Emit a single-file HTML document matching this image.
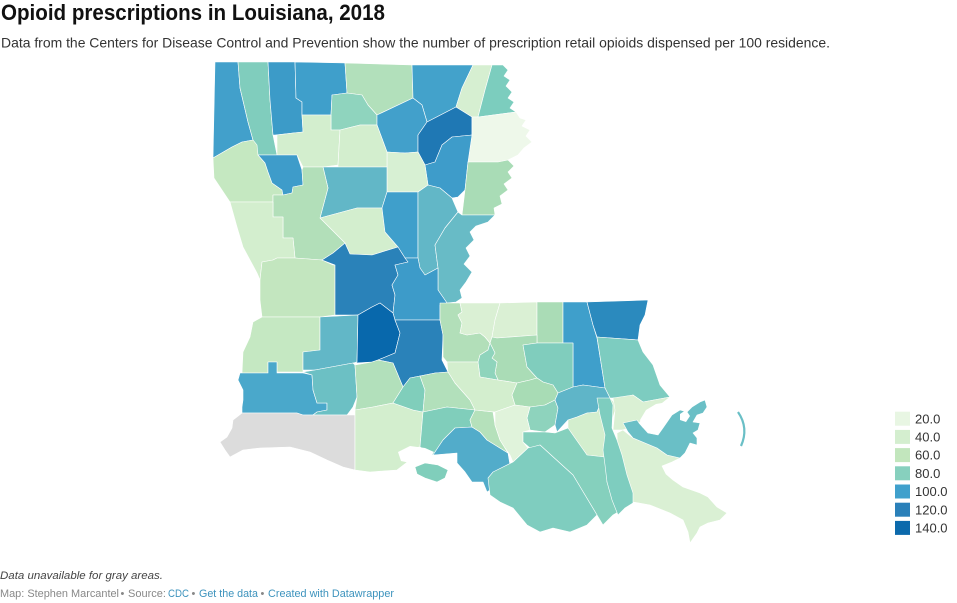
<!DOCTYPE html>
<html><head><meta charset="utf-8"><style>
html,body{margin:0;padding:0;background:#fff;}
svg{display:block;}
</style></head><body>
<svg width="957" height="603" viewBox="0 0 957 603" xmlns="http://www.w3.org/2000/svg" font-family="'Liberation Sans', Arial, sans-serif">
<rect width="957" height="603" fill="#fff"/>
<text x="1" y="20" font-size="22" font-weight="bold" fill="#111" textLength="384" lengthAdjust="spacingAndGlyphs">Opioid prescriptions in Louisiana, 2018</text>
<text x="1" y="47.5" font-size="14" fill="#333" textLength="829" lengthAdjust="spacingAndGlyphs">Data from the Centers for Disease Control and Prevention show the number of prescription retail opioids dispensed per 100 residence.</text>

<g stroke="#fff" stroke-width="0.6" stroke-linejoin="round">
<!-- North -->
<polygon fill="#42a0cb" points="215,62 238,62 240,88 244,105 248,122 253,140 242,142 232,147 213,158"/>
<polygon fill="#80cdbd" points="238,62 268,62 270,100 273,135 277,155 258,155 253,140 248,122 244,105 240,88"/>
<polygon fill="#3c9bc8" points="268,62 295,62 296,98 302,102 302,115 303,132 293,133 275,135 273,135 270,100"/>
<polygon fill="#3f9fcb" points="295,62 345,63 347,93 332,95 331,115 302,115 302,102 296,98"/>
<polygon fill="#b2e0bb" points="345,63 412,65 413,98 377,115 368,105 362,95 347,93"/>
<polygon fill="#8fd4be" points="332,95 347,93 362,95 368,105 377,115 377,125 360,125 340,130 331,130 331,115"/>
<polygon fill="#43a2cb" points="412,65 473,65 462,88 456,107 427,122 422,105 413,98"/>
<polygon fill="#d6efd1" points="473,65 492,65 485,90 478,117 472,117 456,107 462,88"/>
<polygon fill="#7ccdbe" points="492,65 503,65 508,70 504,76 510,80 506,86 512,92 508,98 514,102 510,108 516,112 478,117 485,90"/>
<polygon fill="#42a0cb" points="377,115 413,98 422,105 427,122 418,135 418,152 405,153 387,152 377,125"/>
<polygon fill="#1f78b4" points="427,122 456,107 472,117 472,135 452,137 442,145 435,162 425,165 418,152 418,135"/>
<polygon fill="#eef8ea" points="472,117 478,117 516,112 520,118 526,120 522,126 530,130 526,136 532,142 524,148 518,155 508,160 498,162 468,162 472,135"/>
<polygon fill="#3e9cca" points="425,165 435,162 442,145 452,137 472,135 468,162 465,190 458,197 452,198 440,188 428,185"/>
<polygon fill="#a9dcb6" points="468,162 498,162 508,160 514,166 508,172 512,178 504,184 508,190 500,196 502,204 494,208 495,215 462,215 465,190"/>
<polygon fill="#d7f0d3" points="387,152 405,153 418,152 425,165 428,185 418,192 387,192"/>
<polygon fill="#d3eece" points="277,135 293,133 303,132 302,115 331,115 331,130 340,130 338,165 323,167 303,167 297,155 277,155"/>
<polygon fill="#d3eece" points="340,130 360,125 377,125 387,152 387,167 338,167 338,165"/>
<polygon fill="#62b7c7" points="323,167 387,167 387,192 382,208 357,208 320,218 328,188"/>
<polygon fill="#d3eece" points="320,218 357,208 382,208 385,232 398,247 372,255 350,254 345,243 342,240"/>
<polygon fill="#3f9fcb" points="387,192 418,192 418,258 405,258 398,247 385,232 382,208"/>
<polygon fill="#62b7c7" points="418,192 428,185 440,188 452,198 458,212 445,228 435,245 438,268 425,275 420,268 418,258"/>
<polygon fill="#68bbc6" points="458,212 462,215 495,215 488,222 476,226 470,232 474,240 466,248 470,256 464,264 472,272 466,282 460,290 462,298 456,302 447,303 438,290 438,268 435,245 445,228"/>
<polygon fill="#c5e8c1" points="213,158 232,147 242,142 253,140 257,145 258,155 265,163 268,172 272,183 282,190 283,195 273,195 273,202 230,202 222,190 214,178"/>
<polygon fill="#3e9cca" points="258,155 297,155 302,170 303,185 293,187 292,193 283,195 282,190 272,183 268,172 265,163"/>
<polygon fill="#b2dfb9" points="273,195 283,195 292,193 293,187 303,185 302,170 303,167 323,167 328,188 320,218 342,240 345,243 333,253 322,260 295,258 293,238 283,238 283,217 273,217"/>
<polygon fill="#d3eece" points="230,202 273,202 273,217 283,217 283,238 293,238 295,258 277,258 273,260 262,262 260,280 257,273 250,260 243,247 237,227"/>
<polygon fill="#c3e6bf" points="262,262 273,260 277,258 295,258 322,260 333,265 335,265 335,315 320,317 262,317 260,300 260,280"/>
<polygon fill="#2a82b9" points="322,260 333,253 345,243 350,254 372,255 398,247 405,258 408,262 395,265 398,275 392,285 395,295 393,313 380,303 372,307 358,315 335,315 335,265"/>
<polygon fill="#3d9bc9" points="405,258 418,258 420,268 425,275 438,268 438,290 447,303 440,305 440,320 395,320 393,313 395,295 392,285 398,275 395,265 408,262"/>
<!-- Southwest -->
<polygon fill="#c5e8c2" points="262,317 320,317 320,350 303,352 303,372 277,372 277,362 268,362 268,373 242,373 243,352 250,337 253,322"/>
<polygon fill="#62b7c7" points="320,317 358,315 357,362 353,363 315,370 303,370 303,352 320,350"/>
<polygon fill="#0868ac" points="358,315 372,307 380,303 393,313 395,320 400,333 395,353 378,360 372,362 355,363 357,362"/>
<polygon fill="#2a82b9" points="395,320 440,320 443,335 442,360 448,372 435,373 420,376 410,378 403,387 398,375 393,363 378,360 395,353 400,333"/>
<polygon fill="#4aa8cb" points="240,373 268,373 268,362 277,362 277,373 303,373 312,375 313,390 317,403 327,403 327,410 317,412 313,415 303,415 297,413 242,413 242,407 243,400 243,390 238,380"/>
<polygon fill="#6cc0c4" points="303,372 315,370 353,363 355,365 357,397 353,407 347,415 313,415 317,412 327,410 327,403 317,403 313,390 312,375"/>
<polygon fill="#b2e0bb" points="355,365 372,362 378,360 393,363 398,375 403,387 398,395 393,403 373,407 355,410 357,397"/>
<polygon fill="#dcdcdc" points="242,413 297,413 303,415 355,415 355,470 343,467 327,460 310,452 290,447 260,448 243,450 230,457 225,450 220,442 227,437 232,428 233,420"/>
<polygon fill="#d3eece" points="355,410 373,407 393,403 413,410 423,412 420,447 410,448 400,453 410,460 397,470 370,472 355,470"/>
<polygon fill="#80cebb" points="403,387 410,378 420,376 425,390 423,412 413,410 393,403 398,395"/>
<polygon fill="#b2e0bb" points="420,376 435,373 448,372 450,375 455,383 470,400 475,410 447,407 423,412 425,390"/>
<polygon fill="#80cebb" points="423,412 447,407 475,410 470,420 472,427 455,428 443,440 433,455 425,450 420,447"/>
<polygon fill="#52acca" points="433,455 443,440 455,428 472,427 480,432 487,440 508,453 510,465 495,475 493,488 487,492 483,482 472,482 465,472 457,463 457,453"/>
<polygon fill="#b5e1bb" points="475,410 493,412 495,425 500,440 508,453 487,440 480,432 472,427 470,420"/>
<polygon fill="#80cebb" points="415,467 425,463 438,465 448,470 445,478 437,482 425,478 417,474"/>
<!-- East / Florida parishes -->
<polygon fill="#b2dfb9" points="440,303 460,303 462,312 458,315 462,323 460,333 467,335 480,333 485,337 490,343 488,350 480,355 478,362 447,362 443,357 443,335 440,320 440,305"/>
<polygon fill="#daf0d4" points="460,303 500,303 495,320 492,337 490,343 485,337 480,333 467,335 460,333 462,323 458,315 462,312"/>
<polygon fill="#daf0d4" points="500,303 537,302 537,335 497,338 492,337 495,320"/>
<polygon fill="#aadcb6" points="537,302 563,302 563,343 550,343 537,343 537,335"/>
<polygon fill="#3f9fcb" points="563,302 587,302 593,325 597,338 605,388 583,385 573,387 573,343 563,343"/>
<polygon fill="#2b8abe" points="587,302 648,300 645,315 640,325 638,340 597,337 593,325"/>
<polygon fill="#7dccc0" points="597,337 638,340 643,352 653,365 660,385 670,397 643,402 633,395 620,398 610,398 605,388"/>
<polygon fill="#aadcb6" points="492,337 497,338 537,335 537,343 523,345 527,367 537,378 530,380 517,383 498,380 495,373 497,362 492,358 495,353 490,343"/>
<polygon fill="#8fd4bc" points="490,343 495,353 492,358 497,362 495,373 498,380 480,377 478,362 480,355 488,350"/>
<polygon fill="#80cdbd" points="523,345 537,343 563,343 573,343 573,387 558,393 553,385 543,382 537,378 527,367"/>
<polygon fill="#d3eece" points="447,362 478,362 480,377 498,380 517,383 512,395 515,405 495,412 475,410 470,400 455,383 450,375 448,372"/>
<polygon fill="#a8dcb5" points="517,383 530,380 537,378 543,382 553,385 558,393 555,400 545,405 530,407 515,405 512,395"/>
<polygon fill="#8ed3bd" points="530,407 545,405 555,400 558,408 555,425 545,432 530,430 527,418"/>
<polygon fill="#5fb5c8" points="558,393 573,387 583,385 605,388 610,398 600,405 597,412 587,413 577,417 568,420 557,432 555,425 558,408 555,400"/>
<polygon fill="#d3eece" points="568,420 577,417 587,413 597,412 600,405 610,398 617,405 607,435 605,457 587,455 575,438 568,428"/>
<polygon fill="#e0f3db" points="495,412 515,405 530,407 527,418 530,430 523,432 523,442 528,448 513,462 510,455 505,448 500,440 495,425"/>
<polygon fill="#85d0bd" points="523,432 545,432 555,433 568,428 575,438 587,455 605,457 607,482 617,502 625,508 613,515 603,525 597,515 585,495 573,475 540,445 530,448 523,442"/>
<polygon fill="#7fcdbf" points="493,472 513,462 528,448 540,445 573,475 585,495 597,515 587,525 570,532 553,528 540,532 527,525 513,508 500,502 490,495 488,478"/>
<polygon fill="#daf0d4" points="617,433 623,430 633,438 645,443 657,448 667,455 680,458 672,462 662,466 666,474 673,480 683,487 700,493 708,497 717,507 727,513 720,520 708,523 700,527 697,533 690,543 688,532 683,520 670,513 650,505 633,502 625,497 620,480 618,463"/>
<polygon fill="#7ecdbf" points="597,398 610,398 613,405 612,428 617,440 622,455 627,475 633,493 633,503 625,508 618,515 612,500 607,482 605,465 603,450 605,435 600,415"/>
<polygon fill="#daf0d4" points="613,398 633,395 643,402 670,397 660,405 652,410 645,415 640,422 630,428 622,430 613,430 615,410"/>
<polygon fill="#6abfc6" points="623,423 637,420 639,423 648,433 658,435 663,428 672,415 680,410 687,412 692,407 700,402 705,400 707,407 703,413 697,415 693,422 700,423 698,430 693,433 697,438 697,445 690,443 685,453 680,458 667,455 657,448 645,443 633,438 628,432"/>
</g>
<!-- water cutouts -->
<g fill="#fff">
<polygon points="640,420 646,410 656,404 668,402 667,412 662,420 656,428 648,431 642,427"/>
<polygon points="680,414 686,410 690,416 686,422 680,420"/>
<polygon points="398,452 410,446 425,448 434,452 430,458 420,461 410,463 401,461"/>
<polygon points="662,466 675,462 690,468 700,480 695,488 683,484 670,476"/>
</g>
<path d="M738,412 Q749,428 741,446" fill="none" stroke="#6abfc6" stroke-width="2.2"/>

<!-- Legend -->
<g>
<rect x="895" y="411.7" width="15" height="14" fill="#e8f6e3"/>
<rect x="895" y="429.9" width="15" height="14" fill="#d4eecf"/>
<rect x="895" y="448.1" width="15" height="14" fill="#c2e6bd"/>
<rect x="895" y="466.3" width="15" height="14" fill="#87d0be"/>
<rect x="895" y="484.5" width="15" height="14" fill="#40a0cc"/>
<rect x="895" y="502.7" width="15" height="14" fill="#2a80b9"/>
<rect x="895" y="520.9" width="15" height="14" fill="#0c6aac"/>
<g font-size="13" fill="#333">
<text x="915" y="423.3">20.0</text>
<text x="915" y="441.5">40.0</text>
<text x="915" y="459.7">60.0</text>
<text x="915" y="477.9">80.0</text>
<text x="915" y="496.1">100.0</text>
<text x="915" y="514.3">120.0</text>
<text x="915" y="532.5">140.0</text>
</g>
</g>

<!-- Footer -->
<text x="0" y="579" font-size="11" font-style="italic" fill="#444" textLength="163" lengthAdjust="spacingAndGlyphs">Data unavailable for gray areas.</text>
<g font-size="11">
<text x="0" y="597" fill="#888" textLength="119" lengthAdjust="spacingAndGlyphs">Map: Stephen Marcantel</text>
<text x="120.5" y="597" fill="#888">•</text>
<text x="128" y="597" fill="#888" textLength="38" lengthAdjust="spacingAndGlyphs">Source:</text>
<text x="168" y="597" fill="#3d93bd" textLength="21" lengthAdjust="spacingAndGlyphs">CDC</text>
<text x="191.5" y="597" fill="#888">•</text>
<text x="199" y="597" fill="#3d93bd" textLength="59" lengthAdjust="spacingAndGlyphs">Get the data</text>
<text x="260.5" y="597" fill="#888">•</text>
<text x="268" y="597" fill="#3d93bd" textLength="126" lengthAdjust="spacingAndGlyphs">Created with Datawrapper</text>
</g>
</svg>
</body></html>
